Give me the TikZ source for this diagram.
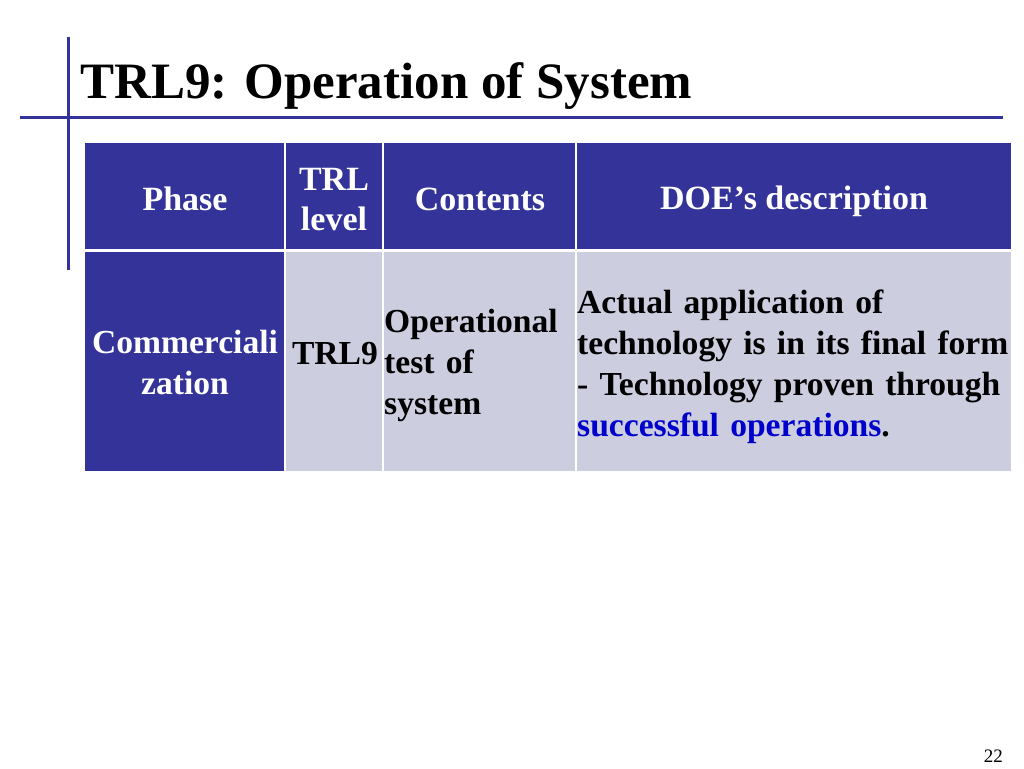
\documentclass[tikz,border=0pt]{standalone}
\usepackage{fontspec}
\setmainfont{Liberation Serif}
\definecolor{hdr}{RGB}{51,51,153}
\definecolor{lite}{RGB}{205,205,224}
\definecolor{linkblue}{RGB}{0,0,204}
\tikzset{
  rule/.style={draw=hdr, line width=3pt},
  cell/.style={anchor=north west, inner sep=0pt, outer sep=0pt, draw=none},
  hcell/.style={cell, fill=hdr},
  dcell/.style={cell, fill=lite},
  htext/.style={font=\fontsize{34}{40}\selectfont\bfseries, text=white, inner sep=0pt},
  dtext/.style={font=\fontsize{33.6}{41}\selectfont\bfseries, text=black, inner sep=0pt},
}
\begin{document}
\begin{tikzpicture}[x=1pt,y=-1pt]
\useasboundingbox (0,0) rectangle (1024,768);
\fill[white] (0,0) rectangle (1024,768);
% decorative rules
\coordinate (vt) at (68,37);
\coordinate (vb) at (68,270);
\coordinate (hl) at (20,117);
\coordinate (hr) at (1003,117);
\draw[rule] (vt) -- (vb);
\draw[rule] (hl) -- (hr);
% title
\node[anchor=base west, inner sep=0pt, font=\fontsize{51}{60}\selectfont\bfseries] (title) at (80,98) {TRL9: Operation of System};
% header cells
\node[hcell, minimum width=199pt, minimum height=106pt] (h1) at (85,143) {};
\node[hcell, minimum width=96pt, minimum height=106pt] (h2) at (286,143) {};
\node[hcell, minimum width=191pt, minimum height=106pt] (h3) at (384,143) {};
\node[hcell, minimum width=434pt, minimum height=106pt] (h4) at (577,143) {};
% data cells
\node[hcell, minimum width=199pt, minimum height=219pt] (d1) at (85,252) {};
\node[dcell, minimum width=96pt, minimum height=219pt] (d2) at (286,252) {};
\node[dcell, minimum width=191pt, minimum height=219pt] (d3) at (384,252) {};
\node[dcell, minimum width=434pt, minimum height=219pt] (d4) at (577,252) {};
% header texts
\node[htext, anchor=base] (t1) at (185,210) {Phase};
\node[htext, anchor=base, text width=96pt, align=center] (t2) at (334,190) {TRL\\level};
\node[htext, anchor=base] (t3) at (480,210) {Contents};
\node[htext, anchor=base] (t4) at (794,209) {DOE’s description};
% data texts
\node[dtext, text=white, anchor=base, text width=199pt, align=center] (c1) at (185,353) {Commerciali\\zation};
\node[dtext, anchor=base] (c2) at (335,364) {TRL9};
\node[dtext, anchor=base west, text width=195pt, align=left] (c3) at (384,332) {Operational\\test of\\system};
\node[dtext, anchor=base west, text width=440pt, align=left] (c4) at (577,313) {Actual application of\\technology is in its final form\\- Technology proven through\\\textcolor{linkblue}{successful operations}.};
% page number
\node[anchor=base east, inner sep=0pt, font=\fontsize{19}{22}\selectfont] (pg) at (1003,762) {22};
\end{tikzpicture}
\end{document}
